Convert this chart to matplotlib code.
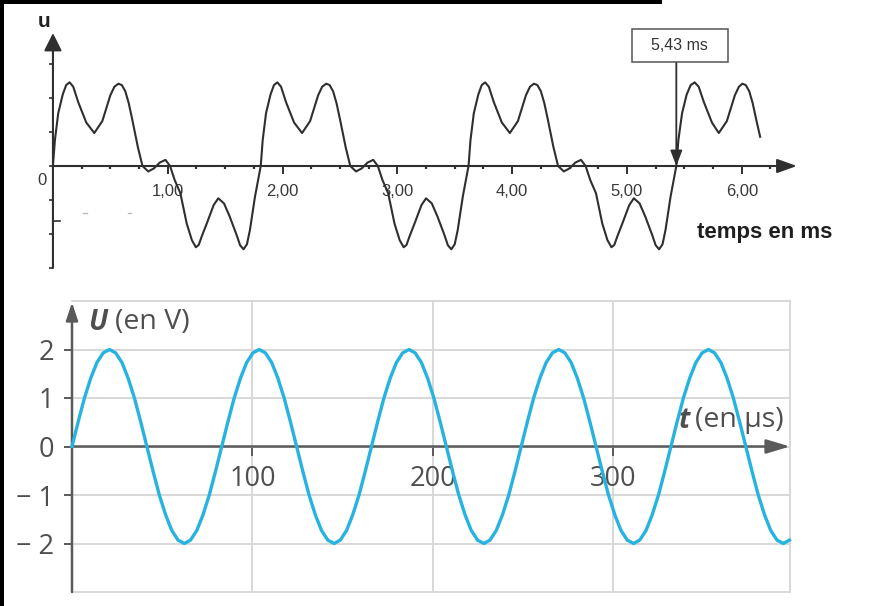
import numpy as np
import matplotlib.pyplot as plt
from matplotlib.patches import Rectangle
from matplotlib.ticker import FixedLocator

plt.rcParams['font.family'] = ['Liberation Sans', 'DejaVu Sans']

W, H = 875, 606

# top oscillogram (t in ms, u in screen divisions)
t_ms = [0.000, 0.017, 0.046, 0.085, 0.115, 0.145, 0.177, 0.220, 0.290, 0.360, 0.430, 0.500,
        0.535, 0.570, 0.600, 0.630, 0.660, 0.690, 0.740, 0.780, 0.830, 0.880, 0.930, 0.980,
        1.020, 1.060, 1.110, 1.165, 1.210, 1.245, 1.270, 1.295, 1.340, 1.400, 1.440, 1.490,
        1.540, 1.600, 1.630, 1.660, 1.690, 1.716, 1.760,
        1.810, 1.827, 1.856, 1.895, 1.925, 1.955, 1.987, 2.030, 2.100, 2.170, 2.240, 2.310,
        2.345, 2.380, 2.410, 2.440, 2.470, 2.500, 2.550, 2.590, 2.640, 2.690, 2.740, 2.790,
        2.830, 2.870, 2.920, 2.975, 3.020, 3.055, 3.080, 3.105, 3.150, 3.210, 3.250, 3.300,
        3.350, 3.410, 3.440, 3.470, 3.500, 3.526, 3.570,
        3.620, 3.637, 3.666, 3.705, 3.735, 3.765, 3.797, 3.840, 3.910, 3.980, 4.050, 4.120,
        4.155, 4.190, 4.220, 4.250, 4.280, 4.310, 4.360, 4.400, 4.450, 4.500, 4.550, 4.600,
        4.640, 4.680, 4.730, 4.785, 4.830, 4.865, 4.890, 4.915, 4.960, 5.020, 5.060, 5.110,
        5.160, 5.220, 5.250, 5.280, 5.310, 5.336, 5.380,
        5.430, 5.448, 5.480, 5.520, 5.555, 5.590, 5.625, 5.670, 5.740, 5.800, 5.870, 5.940,
        5.975, 6.005, 6.035, 6.065, 6.095, 6.125, 6.160]
u_div = [0.00, 0.76, 1.55, 2.10, 2.38, 2.46, 2.33, 1.88, 1.28, 0.97, 1.32, 2.08,
         2.33, 2.42, 2.38, 2.20, 1.85, 1.38, 0.55, 0.00, -0.16, -0.07, 0.10, 0.18,
         0.00, -0.41, -0.80, -1.69, -2.18, -2.39, -2.32, -2.08, -1.69, -1.15, -0.95, -1.10,
         -1.49, -2.03, -2.33, -2.45, -2.30, -1.88, -0.90,
         0.00, 0.76, 1.55, 2.10, 2.38, 2.46, 2.33, 1.88, 1.28, 0.97, 1.32, 2.08,
         2.33, 2.42, 2.38, 2.20, 1.85, 1.38, 0.55, 0.00, -0.16, -0.07, 0.10, 0.18,
         0.00, -0.41, -0.80, -1.69, -2.18, -2.39, -2.32, -2.08, -1.69, -1.15, -0.95, -1.10,
         -1.49, -2.03, -2.33, -2.45, -2.30, -1.88, -0.90,
         0.00, 0.76, 1.55, 2.10, 2.38, 2.46, 2.33, 1.88, 1.28, 0.97, 1.32, 2.08,
         2.33, 2.42, 2.38, 2.20, 1.85, 1.38, 0.55, 0.00, -0.16, -0.07, 0.10, 0.18,
         0.00, -0.41, -0.80, -1.69, -2.18, -2.39, -2.32, -2.08, -1.69, -1.15, -0.95, -1.10,
         -1.49, -2.03, -2.33, -2.45, -2.30, -1.88, -0.90,
         0.00, 0.76, 1.55, 2.10, 2.38, 2.46, 2.33, 1.88, 1.28, 0.97, 1.32, 2.08,
         2.33, 2.42, 2.38, 2.20, 1.85, 1.38, 0.86]
top_ticks = [1, 2, 3, 4, 5, 6]
top_tick_labels = ["1,00", "2,00", "3,00", "4,00", "5,00", "6,00"]
top_minor = [0.25, 0.5, 0.75, 1.25, 1.5, 1.75, 2.25, 2.5, 2.75, 3.25, 3.5, 3.75,
             4.25, 4.5, 4.75, 5.25, 5.5, 5.75, 6.25]
top_div_ticks = [-3, -2, -1, 0, 1, 2, 3]
t_mark = 5.43

# bottom trace (t in µs, U in V)
t_us = [0.0, 3.5, 6.9, 10.4, 13.8, 17.3, 20.8, 24.2, 27.7, 31.1, 34.6, 38.0,
        41.5, 45.0, 48.4, 51.9, 55.3, 58.8, 62.3, 65.7, 69.2, 72.6, 76.1, 79.5,
        83.0, 86.5, 89.9, 93.4, 96.8, 100.3, 103.8, 107.2, 110.7, 114.1, 117.6, 121.0,
        124.5, 128.0, 131.4, 134.9, 138.3, 141.8, 145.3, 148.7, 152.2, 155.6, 159.1, 162.5,
        166.0, 169.5, 172.9, 176.4, 179.8, 183.3, 186.8, 190.2, 193.7, 197.1, 200.6, 204.0,
        207.5, 211.0, 214.4, 217.9, 221.3, 224.8, 228.3, 231.7, 235.2, 238.6, 242.1, 245.5,
        249.0, 252.5, 255.9, 259.4, 262.8, 266.3, 269.8, 273.2, 276.7, 280.1, 283.6, 287.0,
        290.5, 294.0, 297.4, 300.9, 304.3, 307.8, 311.3, 314.7, 318.2, 321.6, 325.1, 328.5,
        332.0, 335.5, 338.9, 342.4, 345.8, 349.3, 352.8, 356.2, 359.7, 363.1, 366.6, 370.0,
        373.5, 377.0, 380.4, 383.9, 387.3, 390.8, 394.3, 397.7]
u_volts = [0, 0.52, 1.00, 1.41, 1.73, 1.93, 2.00, 1.93, 1.73, 1.41, 1.00, 0.52,
           0, -0.52, -1.00, -1.41, -1.73, -1.93, -2.00, -1.93, -1.73, -1.41, -1.00, -0.52,
           0, 0.52, 1.00, 1.41, 1.73, 1.93, 2.00, 1.93, 1.73, 1.41, 1.00, 0.52,
           0, -0.52, -1.00, -1.41, -1.73, -1.93, -2.00, -1.93, -1.73, -1.41, -1.00, -0.52,
           0, 0.52, 1.00, 1.41, 1.73, 1.93, 2.00, 1.93, 1.73, 1.41, 1.00, 0.52,
           0, -0.52, -1.00, -1.41, -1.73, -1.93, -2.00, -1.93, -1.73, -1.41, -1.00, -0.52,
           0, 0.52, 1.00, 1.41, 1.73, 1.93, 2.00, 1.93, 1.73, 1.41, 1.00, 0.52,
           0, -0.52, -1.00, -1.41, -1.73, -1.93, -2.00, -1.93, -1.73, -1.41, -1.00, -0.52,
           0, 0.52, 1.00, 1.41, 1.73, 1.93, 2.00, 1.93, 1.73, 1.41, 1.00, 0.52,
           0, -0.52, -1.00, -1.41, -1.73, -1.93, -2.00, -1.93]
u_ticks = [-2, -1, 0, 1, 2]
u_tick_labels = ["\u2212 2", "\u2212 1", "0", "1", "2"]
t_ticks = [100, 200, 300]


fig = plt.figure(figsize=(W / 100, H / 100), dpi=100)


def px_axes(x0, y0, x1, y1):
    # place an axes by its pixel box on the 875x606 canvas
    return fig.add_axes([x0 / W, 1 - y1 / H, (x1 - x0) / W, (y1 - y0) / H])


def arrow(ax, p0, p1, color, lw, hl, hw):
    ax.annotate("", xy=p1, xytext=p0, annotation_clip=False,
                arrowprops=dict(arrowstyle="-|>,head_length=%g,head_width=%g" % (hl, hw),
                                color=color, lw=lw, shrinkA=0, shrinkB=0,
                                mutation_scale=10))


# ---------------- top panel ----------------
ink = "#2f2f2f"
ax1 = px_axes(20, 10, 860, 280)
ax1.set_xlim(-0.287, 7.03)
ax1.set_ylim(-3.353, 4.588)
ax1.patch.set_alpha(0)
for s in ax1.spines.values():
    s.set_color("none")
ax1.spines["bottom"].set_position(("data", 0))
ax1.spines["left"].set_position(("data", 0))

ax1.plot(t_ms, u_div, color=ink, lw=1.5, zorder=3)

arrow(ax1, (0, 0), (6.48, 0), ink, 1.5, 1.2, 0.43)
arrow(ax1, (0, -3), (0, 3.91), ink, 1.5, 1.08, 0.54)

ax1.set_xticks(top_ticks)
ax1.set_xticklabels(top_tick_labels)
ax1.xaxis.set_minor_locator(FixedLocator(top_minor))
ax1.tick_params(axis="x", which="major", direction="out", length=6, width=1.4,
                color=ink, labelsize=12, labelcolor="#3a3a3a", pad=7)
ax1.tick_params(axis="x", which="minor", direction="out", length=2.2, width=1.6, color=ink)
ax1.set_yticks(top_div_ticks)
ax1.set_yticklabels([])
ax1.tick_params(axis="y", direction="out", length=3, width=1.2, color=ink)

ax1.plot([0, 0.06], [-1.62, -1.62], color=ink, lw=1.2)
ax1.plot([0.26, 0.30], [-1.38, -1.38], color="#bbbbbb", lw=1)
ax1.plot([0.65, 0.68], [-1.38, -1.38], color="#bbbbbb", lw=1)

ax1.text(-0.078, 4.24, "u", fontsize=15, fontweight="bold", color="#222222",
         ha="center", va="center")
ax1.text(-0.096, -0.44, "0", fontsize=12, color="#3a3a3a", ha="center", va="center")
ax1.text(5.61, -2.12, "temps en ms", fontsize=16, fontweight="bold", color="#1e1e1e",
         ha="left", va="baseline")

ax1.add_patch(Rectangle((5.044, 3.06), 0.836, 0.97, facecolor="white",
                        edgecolor="#555555", lw=1.1, zorder=4))
ax1.text(5.46, 3.53, "5,43 ms", fontsize=11.5, color="#333333", ha="center",
         va="center", zorder=5)
arrow(ax1, (t_mark, 3.06), (t_mark, 0), ink, 1.3, 0.94, 0.36)

# ---------------- bottom panel ----------------
grid_c = "#d6d6d6"
axis_c = "#5a5a5a"
txt_c = "#4f4f4f"
sans = ["Open Sans", "DejaVu Sans"]

ax2 = px_axes(72, 301, 790, 592)
ax2.set_xlim(0, 398)
ax2.set_ylim(-3, 3)
ax2.spines["left"].set_color("none")
ax2.spines["bottom"].set_position(("data", 0))
ax2.spines["bottom"].set_color("none")
for side in ["top", "right"]:
    ax2.spines[side].set_color(grid_c)
    ax2.spines[side].set_linewidth(1.3)
ax2.axhline(-3, color=grid_c, lw=1.3, clip_on=False, zorder=1)

ax2.set_xticks(t_ticks)
ax2.set_yticks(u_ticks)
ax2.set_yticklabels(u_tick_labels)
ax2.grid(True, color=grid_c, lw=1.3, zorder=0)
ax2.set_axisbelow(True)
ax2.tick_params(axis="x", direction="out", length=6.5, width=1.4, color=axis_c,
                labelsize=19.5, labelcolor=txt_c, pad=7)
ax2.tick_params(axis="y", direction="out", length=6, width=1.4, color=axis_c,
                labelsize=19.5, labelcolor=txt_c, pad=7)
for lab in ax2.get_xticklabels() + ax2.get_yticklabels():
    lab.set_family(sans)

arrow(ax2, (0, 0), (398, 0), axis_c, 1.8, 1.44, 0.43)
arrow(ax2, (0, -3), (0, 2.97), axis_c, 1.8, 1.08, 0.36)

ax2.plot(t_us, u_volts, color="#27b3df", lw=2.4, zorder=4, clip_on=False)

ax2.text(8.9, 2.56, "U", fontsize=20, fontweight="bold", fontstyle="italic",
         family=sans, color=txt_c, ha="left", va="center")
ax2.text(23.8, 2.56, "(en V)", fontsize=20.5, family=sans, color=txt_c,
         ha="left", va="center")
ax2.text(336.5, 0.54, "t", fontsize=20, fontweight="bold", fontstyle="italic",
         family=sans, color=txt_c, ha="left", va="center", zorder=2)
ax2.text(345.5, 0.54, "(en µs)", fontsize=20.5, family=sans, color=txt_c,
         ha="left", va="center", zorder=2)

# scan frame: black bar on top and on the left edge
fig.add_artist(Rectangle((0, 1 - 4 / H), 662 / W, 4 / H, transform=fig.transFigure,
                         color="black", lw=0))
fig.add_artist(Rectangle((0, 0), 4 / W, 1, transform=fig.transFigure,
                         color="black", lw=0))

fig.savefig("out.png", dpi=100)
